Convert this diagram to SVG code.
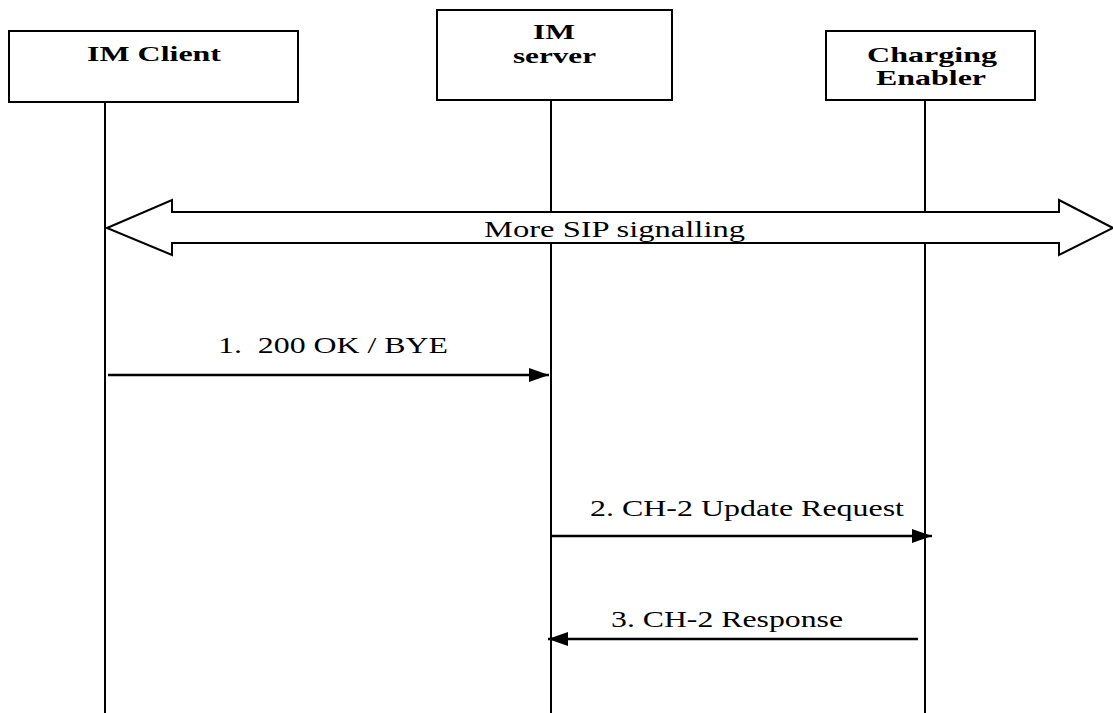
<svg xmlns="http://www.w3.org/2000/svg" width="1113" height="713" viewBox="0 0 1113 713">
<style>
.box{fill:#fff;stroke:#000;stroke-width:2}
.life{stroke:#000;stroke-width:2}
.hd{font-family:"Liberation Serif",serif;font-weight:bold;font-size:22px}
.lbl{font-family:"Liberation Serif",serif;font-size:24px}
.msg{stroke:#000;stroke-width:2.5;fill:none}
</style>
<defs>
<marker id="ah" markerWidth="20" markerHeight="14" refX="20" refY="7" orient="auto" markerUnits="userSpaceOnUse">
<path d="M0,0 L20,7 L0,14 Z" fill="#000"/>
</marker>
</defs>
<rect width="1113" height="713" fill="#fff"/>
<g id="lifelines">
<line class="life" x1="105" y1="102" x2="105" y2="713"/>
<line class="life" x1="551" y1="100" x2="551" y2="713"/>
<line class="life" x1="925" y1="100" x2="925" y2="713"/>
</g>
<g id="imclient">
<rect class="box" x="9" y="31" width="289" height="71"/>
<text class="hd" x="87" y="61" textLength="134" lengthAdjust="spacingAndGlyphs">IM Client</text>
</g>
<g id="imserver">
<rect class="box" x="437" y="10" width="235" height="90"/>
<text class="hd" x="533" y="39" textLength="42" lengthAdjust="spacingAndGlyphs">IM</text>
<text class="hd" x="513" y="63" textLength="83" lengthAdjust="spacingAndGlyphs">server</text>
</g>
<g id="charging">
<rect class="box" x="826" y="31" width="209" height="69"/>
<text class="hd" x="867" y="62" textLength="130" lengthAdjust="spacingAndGlyphs">Charging</text>
<text class="hd" x="876" y="85" textLength="110" lengthAdjust="spacingAndGlyphs">Enabler</text>
</g>
<g id="connectors">
<path d="M107,228 L172,200 L172,212 L1059,212 L1059,200 L1113,228 L1059,255 L1059,243 L172,243 L172,255 Z" fill="#fff" stroke="#000" stroke-width="2"/>
<line class="msg" x1="108" y1="375" x2="549" y2="375" marker-end="url(#ah)"/>
<line class="msg" x1="552" y1="536" x2="932" y2="536" marker-end="url(#ah)"/>
<line class="msg" x1="918" y1="639" x2="548" y2="639" marker-end="url(#ah)"/>
</g>
<g id="labels">
<text class="lbl" x="484" y="237" textLength="261" lengthAdjust="spacingAndGlyphs">More SIP signalling</text>
<text class="lbl" x="218" y="353" textLength="230" lengthAdjust="spacingAndGlyphs" xml:space="preserve">1.  200 OK / BYE</text>
<text class="lbl" x="590" y="516" textLength="314" lengthAdjust="spacingAndGlyphs">2. CH-2 Update Request</text>
<text class="lbl" x="611" y="627" textLength="232" lengthAdjust="spacingAndGlyphs">3. CH-2 Response</text>
</g>
</svg>
